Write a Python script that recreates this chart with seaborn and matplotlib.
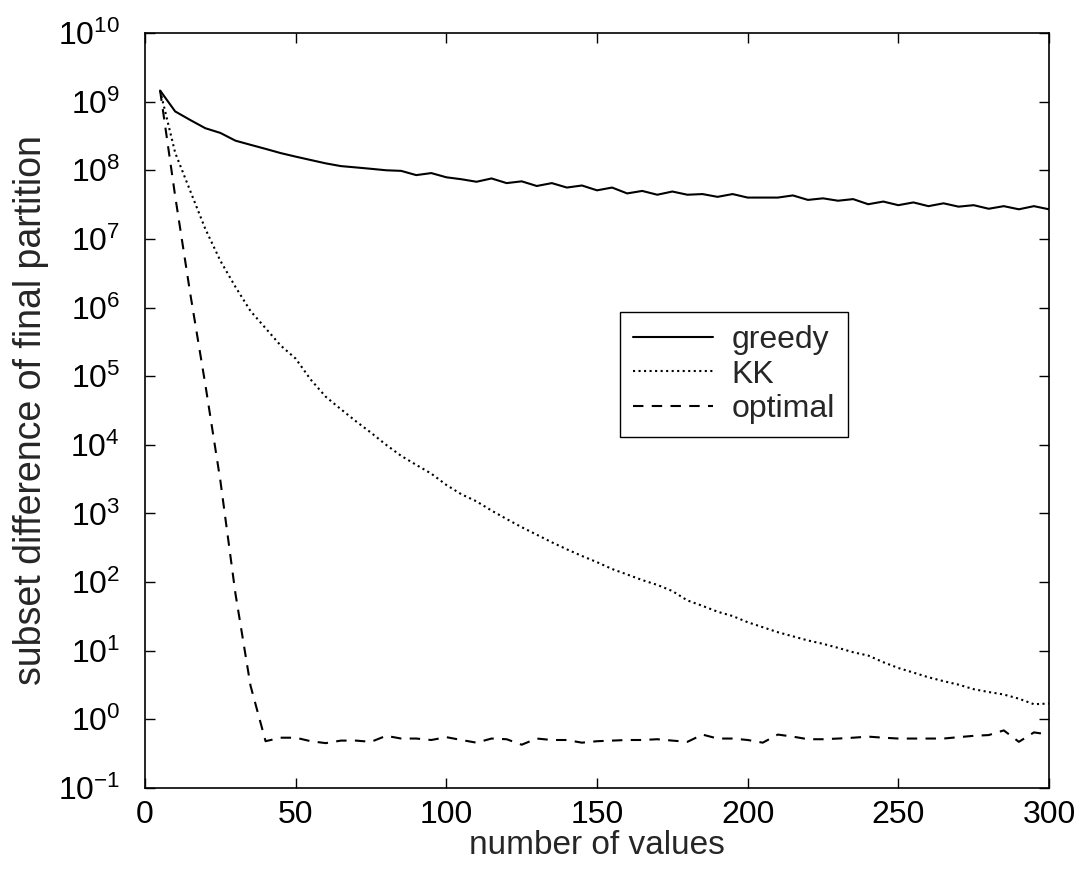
import matplotlib
matplotlib.use("Agg")
import matplotlib.pyplot as plt
import matplotlib.ticker as mticker
import numpy as np
import pandas as pd
import seaborn as sns

# number of values (x) and final subset difference per method
n_values = [5, 10, 15, 20, 25, 30, 35, 40, 45, 50,
            55, 60, 65, 70, 75, 80, 85, 90, 95, 100,
            105, 110, 115, 120, 125, 130, 135, 140, 145, 150,
            155, 160, 165, 170, 175, 180, 185, 190, 195, 200,
            205, 210, 215, 220, 225, 230, 235, 240, 245, 250,
            255, 260, 265, 270, 275, 280, 285, 290, 295, 300]

greedy = [1.45e9, 7.2e8, 5.4e8, 4.1e8, 3.5e8, 2.7e8, 2.35e8, 2.05e8, 1.78e8, 1.58e8,
          1.41e8, 1.26e8, 1.15e8, 1.10e8, 1.05e8, 1.0e8, 9.8e7, 8.5e7, 9.1e7, 7.9e7,
          7.4e7, 6.8e7, 7.6e7, 6.5e7, 6.9e7, 5.9e7, 6.5e7, 5.6e7, 6.0e7, 5.1e7,
          5.6e7, 4.6e7, 5.0e7, 4.4e7, 4.9e7, 4.4e7, 4.5e7, 4.1e7, 4.5e7, 4.0e7,
          4.0e7, 4.0e7, 4.3e7, 3.7e7, 3.9e7, 3.6e7, 3.8e7, 3.2e7, 3.5e7, 3.1e7,
          3.4e7, 3.0e7, 3.3e7, 2.95e7, 3.1e7, 2.75e7, 3.0e7, 2.7e7, 3.0e7, 2.7e7]

kk = [1.45e9, 1.8e8, 5.0e7, 1.4e7, 4.8e6, 2.0e6, 8.9e5, 5.0e5, 2.8e5, 1.8e5,
      8.9e4, 5.0e4, 3.3e4, 2.2e4, 1.5e4, 1.0e4, 6.9e3, 5.1e3, 3.8e3, 2.6e3,
      1.9e3, 1.5e3, 1.1e3, 830, 630, 490, 380, 300, 240, 195,
      155, 129, 107, 91, 74, 54, 45, 37, 32, 26,
      22, 18.6, 16.2, 14.1, 12.6, 11.0, 9.5, 8.5, 6.8, 5.6,
      4.8, 4.1, 3.6, 3.2, 2.75, 2.5, 2.3, 2.0, 1.66, 1.7]

optimal = [1.45e9, 4.2e7, 1.6e6, 7.6e4, 3.0e3, 68, 3.1, 0.48, 0.54, 0.54,
           0.48, 0.45, 0.49, 0.49, 0.47, 0.575, 0.525, 0.525, 0.50, 0.55,
           0.50, 0.457, 0.525, 0.513, 0.427, 0.525, 0.50, 0.50, 0.457, 0.48,
           0.49, 0.50, 0.50, 0.513, 0.49, 0.47, 0.60, 0.525, 0.525, 0.50,
           0.457, 0.60, 0.56, 0.513, 0.513, 0.525, 0.54, 0.56, 0.54, 0.525,
           0.525, 0.525, 0.525, 0.55, 0.575, 0.59, 0.69, 0.47, 0.645, 0.60]

methods = ["greedy", "KK", "optimal"]

df = pd.DataFrame({
    "n": n_values * 3,
    "diff": greedy + kk + optimal,
    "method": np.repeat(methods, len(n_values)),
})

sns.set_style("ticks")
plt.rcParams["font.family"] = ["Liberation Sans", "DejaVu Sans"]
plt.rcParams["mathtext.fontset"] = "custom"
plt.rcParams["mathtext.rm"] = "Liberation Sans"

fig = plt.figure(figsize=(10.84, 8.73), dpi=100)
ax = fig.add_axes([0.1338, 0.0974, 0.8339, 0.8648])

sns.lineplot(data=df, x="n", y="diff", hue="method", style="method",
             palette={m: "black" for m in methods},
             dashes={"greedy": "", "KK": (1, 1.65), "optimal": (5, 4)},
             linewidth=1.5, ax=ax, legend=True)

ax.set_yscale("log")
ax.set_xlim(0, 300)
ax.set_ylim(1e-1, 1e10)
ax.set_xticks([0, 50, 100, 150, 200, 250, 300])
ax.yaxis.set_major_locator(mticker.LogLocator(base=10, numticks=20))
ax.yaxis.set_minor_locator(mticker.NullLocator())

ax.tick_params(axis="both", which="major", direction="in", length=7, width=1,
               top=True, right=True, labelsize=23, colors="black")
ax.tick_params(axis="x", pad=9)
ax.tick_params(axis="y", pad=18)
for s in ax.spines.values():
    s.set_linewidth(1.2)
    s.set_color("black")

ax.set_xlabel("number of values", fontsize=24, labelpad=0)
ax.set_ylabel("subset difference of final partition", fontsize=27, labelpad=6)

leg = ax.legend(loc="upper left", bbox_to_anchor=(0.5254, 0.6305), fontsize=23,
                handlelength=2.5, handletextpad=0.6, borderpad=0.4,
                labelspacing=0.15, borderaxespad=0, frameon=True,
                fancybox=False, title=None)
leg.get_frame().set_edgecolor("black")
leg.get_frame().set_linewidth(1.0)
leg.get_frame().set_alpha(1)

plt.savefig("out.png", dpi=100)
plt.close()
